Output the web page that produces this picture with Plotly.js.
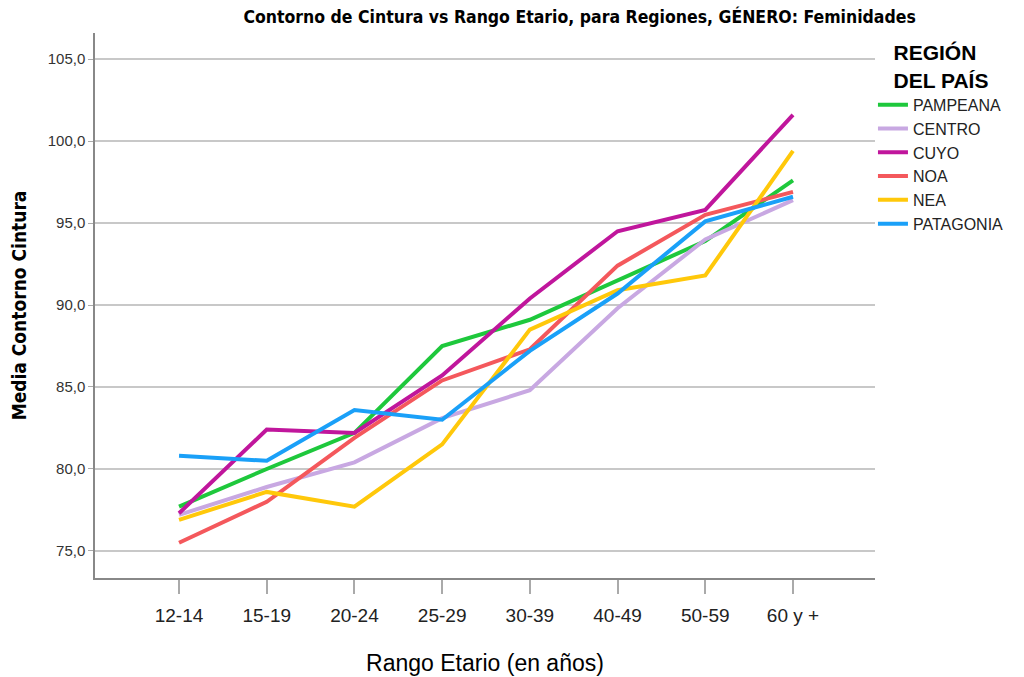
<!DOCTYPE html>
<html>
<head>
<meta charset="utf-8">
<script src="https://cdn.plot.ly/plotly-3.0.1.min.js"></script>
<style>html,body{margin:0;padding:0;background:#fff;}#chart{width:1024px;height:677px;}</style>
</head>
<body>
<div id="chart"></div>
<script>
const categories = ["12-14", "15-19", "20-24", "25-29", "30-39", "40-49", "50-59", "60 y +"];
const regions = ["PAMPEANA", "CENTRO", "CUYO", "NOA", "NEA", "PATAGONIA"];
const pampeana  = [77.7, 80.0, 82.2, 87.5, 89.1, 91.5, 93.9, 97.6];
const centro    = [77.2, 78.9, 80.4, 83.1, 84.8, 89.8, 94.0, 96.4];
const cuyo      = [77.3, 82.4, 82.2, 85.7, 90.4, 94.5, 95.8, 101.6];
const noa       = [75.5, 78.0, 81.9, 85.4, 87.3, 92.4, 95.5, 96.9];
const nea       = [76.9, 78.6, 77.7, 81.5, 88.5, 90.9, 91.8, 99.4];
const patagonia = [80.8, 80.5, 83.6, 83.0, 87.2, 90.7, 95.1, 96.6];
const seriesValues = [pampeana, centro, cuyo, noa, nea, patagonia];
const colors = ["#1ec83c", "#c8a8e2", "#c0169c", "#f4585c", "#ffc80a", "#1aa0f8"];

const traces = regions.map((name, i) => ({
  type: "scatter",
  mode: "lines",
  name: name,
  x: categories,
  y: seriesValues[i],
  line: {color: colors[i], width: 4}
}));

const narrow = "DejaVu Sans Condensed, Liberation Sans Narrow, Arial Narrow, sans-serif";
const arial = "Liberation Sans, Arial, sans-serif";

const layout = {
  width: 1024,
  height: 677,
  paper_bgcolor: "#ffffff",
  plot_bgcolor: "#ffffff",
  margin: {l: 95, r: 149, t: 33, b: 99, autoexpand: false},
  separators: ",.",
  title: {
    text: "<b>Contorno de Cintura vs Rango Etario, para Regiones, GÉNERO: Feminidades</b>",
    font: {family: narrow, size: 17.5, color: "#000"},
    x: 0.566, xref: "container", xanchor: "center",
    y: 0.975, yref: "container", yanchor: "middle"
  },
  xaxis: {
    type: "category",
    range: [-0.958, 7.935],
    showgrid: false,
    zeroline: false,
    showline: true,
    linecolor: "#888",
    linewidth: 1.5,
    ticks: "outside",
    ticklen: 14,
    tickwidth: 1.5,
    tickcolor: "#aaa",
    ticklabelstandoff: 5,
    tickfont: {family: arial, size: 19, color: "#222"},
    title: {
      text: "Rango Etario (en años)",
      font: {family: arial, size: 23, color: "#000"},
      standoff: 30
    }
  },
  yaxis: {
    range: [73.35, 106.59],
    tickvals: [75, 80, 85, 90, 95, 100, 105],
    tickformat: ".1f",
    showgrid: true,
    gridcolor: "#c8c8c8",
    gridwidth: 1.5,
    zeroline: false,
    showline: true,
    linecolor: "#888",
    linewidth: 1.5,
    ticks: "outside",
    ticklen: 5,
    tickcolor: "#aaa",
    tickfont: {family: arial, size: 15, color: "#333"},
    title: {
      text: "<b>Media Contorno Cintura</b>",
      font: {family: narrow, size: 19, color: "#000"},
      standoff: 16
    }
  },
  legend: {
    x: 0.8525, xref: "container", xanchor: "left",
    y: 0.951, yref: "container", yanchor: "top",
    bgcolor: "rgba(0,0,0,0)",
    font: {family: arial, size: 16, color: "#222"},
    title: {
      text: "<b>REGIÓN<br>DEL PAÍS</b>",
      side: "top center",
      font: {family: arial, size: 21, color: "#000"}
    },
    tracegroupgap: 0
  },
  showlegend: true
};

Plotly.newPlot("chart", traces, layout, {displayModeBar: false, responsive: false});
</script>
</body>
</html>
